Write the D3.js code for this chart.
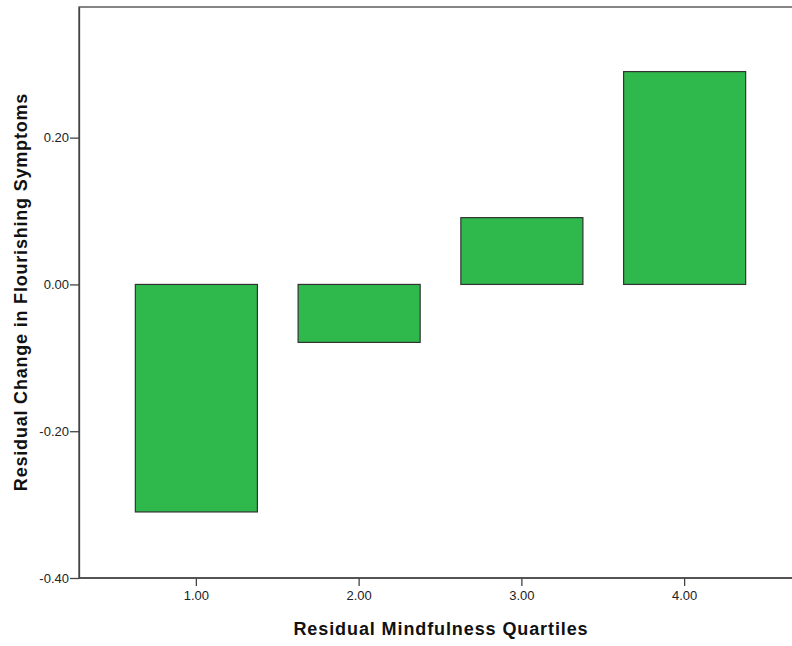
<!DOCTYPE html>
<html>
<head>
<meta charset="utf-8">
<script src="https://cdn.jsdelivr.net/npm/d3@7"></script>
<style>
  body { margin: 0; background: #fff; }
  text { font-family: "Liberation Sans", Arial, sans-serif; }
</style>
</head>
<body>
<svg id="chart" width="792" height="646"></svg>
<script>
const quartiles = ["1.00", "2.00", "3.00", "4.00"];
const residualChange = [-0.31, -0.079, 0.091, 0.29];
const yTicks = [-0.40, -0.20, 0.00, 0.20];

const svg = d3.select("#chart");

// frame of the plot area
const frame = {left: 79, top: 7, right: 800, bottom: 578};

const x = d3.scaleBand()
  .domain(quartiles)
  .range([115, 766])
  .paddingInner(0.25)
  .paddingOuter(0.125);

const y = d3.scaleLinear()
  .domain([-0.40, 0.378])
  .range([frame.bottom, frame.top]);

// SPSS style labels use a plain hyphen
const fmt = d => d3.format(".2f")(d).replace("\u2212", "-");

// frame lines (top and right)
svg.append("rect")
  .attr("x", frame.left)
  .attr("y", frame.top)
  .attr("width", frame.right - frame.left)
  .attr("height", frame.bottom - frame.top)
  .attr("fill", "none")
  .attr("stroke", "#444")
  .attr("stroke-width", 1.3);

// bars
svg.selectAll("rect.bar")
  .data(quartiles)
  .enter().append("rect")
    .attr("class", "bar")
    .attr("x", d => x(d))
    .attr("width", x.bandwidth())
    .attr("y", (d, i) => y(Math.max(0, residualChange[i])))
    .attr("height", (d, i) => Math.abs(y(residualChange[i]) - y(0)))
    .attr("fill", "#2fb84b")
    .attr("stroke", "#333")
    .attr("stroke-width", 1.2);

// y axis
const yAxisG = svg.append("g")
  .attr("transform", `translate(${frame.left},0)`)
  .call(d3.axisLeft(y).tickValues(yTicks).tickFormat(fmt)
    .tickSize(9).tickSizeOuter(0).tickPadding(1));
yAxisG.select(".domain").attr("stroke", "#444").attr("stroke-width", 1.3);
yAxisG.selectAll(".tick line").attr("stroke", "#444").attr("stroke-width", 1.3);
yAxisG.selectAll(".tick text").attr("fill", "#222").style("font-size", "13px");

// x axis
const xAxisG = svg.append("g")
  .attr("transform", `translate(0,${frame.bottom})`)
  .call(d3.axisBottom(x).tickSize(8).tickSizeOuter(0).tickPadding(5));
xAxisG.select(".domain").attr("d", `M${frame.left},0H${frame.right}`)
  .attr("stroke", "#444").attr("stroke-width", 1.3);
xAxisG.selectAll(".tick line").attr("stroke", "#444").attr("stroke-width", 1.3);
xAxisG.selectAll(".tick text").attr("fill", "#222").style("font-size", "13px");

// axis titles
svg.append("text")
  .attr("x", 441)
  .attr("y", 635)
  .attr("text-anchor", "middle")
  .style("font-size", "18px")
  .style("font-weight", "bold")
  .style("letter-spacing", "0.9px")
  .attr("fill", "#111")
  .text("Residual Mindfulness Quartiles");

svg.append("text")
  .attr("transform", "translate(27,292) rotate(-90)")
  .attr("text-anchor", "middle")
  .style("font-size", "18px")
  .style("font-weight", "bold")
  .style("letter-spacing", "0.8px")
  .attr("fill", "#111")
  .text("Residual Change in Flourishing Symptoms");
</script>
</body>
</html>
